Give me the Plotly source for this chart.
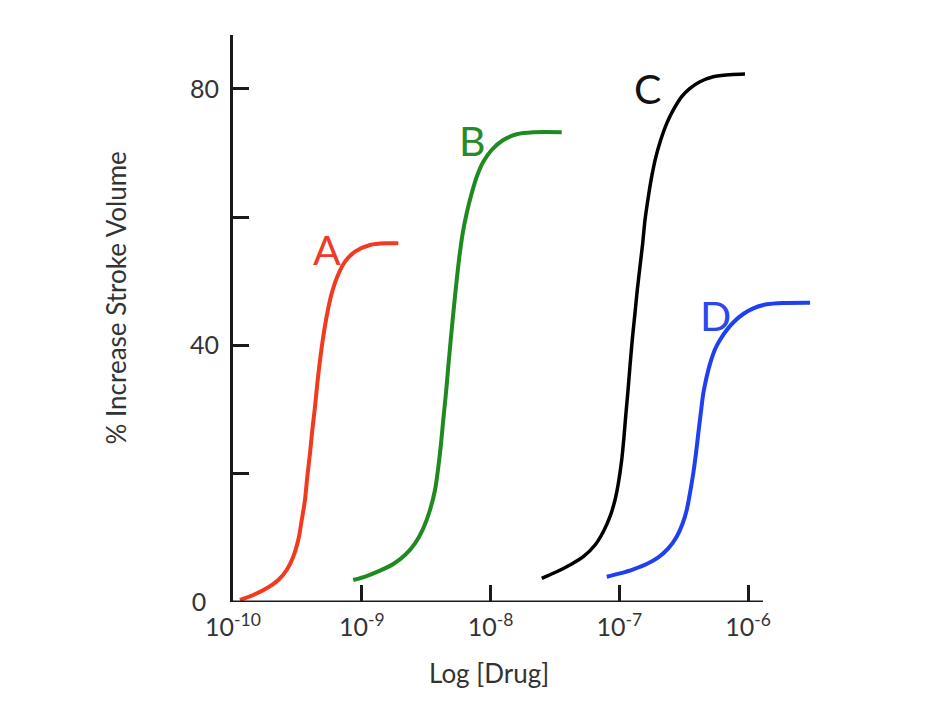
import plotly.graph_objects as go

# ---- data ----
# log10 of drug concentration (M) and % increase in stroke volume
logA = [-9.946, -9.842, -9.738, -9.648, -9.583, -9.532, -9.493, -9.466, -9.441, -9.423, -9.402, -9.384,
        -9.363, -9.345, -9.324, -9.299, -9.268, -9.233, -9.190, -9.130, -9.052, -8.936, -8.806, -8.716]
yA = [0.31, 1.09, 2.14, 3.43, 4.99, 7.06, 9.67, 12.78, 15.90, 19.54, 23.18, 26.82,
      30.45, 34.10, 37.73, 41.36, 45.01, 48.13, 50.72, 53.06, 54.62, 55.66, 55.92, 55.92]

logB = [-9.066, -8.962, -8.858, -8.755, -8.664, -8.586, -8.522, -8.470, -8.431, -8.405, -8.384, -8.367,
        -8.346, -8.328, -8.309, -8.289, -8.268, -8.245, -8.216, -8.185, -8.146, -8.107, -8.056, -7.991,
        -7.901, -7.797, -7.668, -7.447]
yB = [3.43, 4.05, 4.88, 5.92, 7.33, 9.15, 11.49, 14.34, 17.46, 21.09, 24.74, 28.38,
      32.54, 36.69, 40.85, 45.01, 49.16, 53.32, 57.48, 60.60, 63.72, 66.31, 68.65, 70.47,
      72.03, 72.92, 73.23, 73.23]

logC = [-7.602, -7.486, -7.383, -7.279, -7.188, -7.124, -7.072, -7.033, -7.007, -6.981, -6.963, -6.948,
        -6.934, -6.917, -6.899, -6.878, -6.860, -6.839, -6.818, -6.800, -6.774, -6.748, -6.715, -6.678,
        -6.631, -6.580, -6.515, -6.451, -6.373, -6.270, -6.140, -6.023]
yC = [3.70, 4.72, 5.77, 7.06, 8.89, 10.96, 13.30, 15.90, 18.51, 22.14, 25.77, 29.42,
      32.54, 36.69, 40.85, 45.01, 48.64, 52.28, 55.92, 59.56, 63.19, 66.31, 69.43, 72.03,
      74.63, 76.71, 78.78, 80.09, 81.12, 81.90, 82.21, 82.32]

logD = [-7.097, -6.994, -6.891, -6.787, -6.697, -6.619, -6.554, -6.507, -6.476, -6.451, -6.425, -6.404,
        -6.386, -6.367, -6.347, -6.321, -6.290, -6.256, -6.218, -6.165, -6.109, -6.037, -5.959, -5.855,
        -5.726, -5.518]
yD = [3.94, 4.47, 5.10, 5.92, 6.97, 8.37, 10.18, 12.27, 14.34, 16.95, 20.07, 23.18,
      26.30, 29.42, 32.54, 35.13, 37.47, 39.40, 40.85, 42.41, 43.70, 44.90, 45.79, 46.41,
      46.62, 46.66]

curve_names = ["A", "B", "C", "D"]
x_tick_exponents = [-10, -9, -8, -7, -6]
y_tick_values = [0, 20, 40, 60, 80]
y_tick_labels = ["0&nbsp;&nbsp;", "", "40", "", "80"]

# ---- styles ----
colors = {"A": "#f23a1f", "B": "#1f8a1f", "C": "#000000", "D": "#1f40f2"}
label_colors = {"A": "#ee3a2a", "B": "#2a8a2a", "C": "#111111", "D": "#2a48f0"}
widths = {"A": 4, "B": 4, "C": 3.5, "D": 4}
label_pos = {"A": (-9.27, 54.9), "B": (-8.136, 72.0), "C": (-6.777, 80.1), "D": (-6.256, 44.6)}

series = {"A": (logA, yA), "B": (logB, yB), "C": (logC, yC), "D": (logD, yD)}

FONT = "Lato, 'Open Sans', sans-serif"
AX = "#1a1a1a"

fig = go.Figure()
for name in curve_names:
    lx, yy = series[name]
    fig.add_trace(go.Scatter(
        x=[10 ** v for v in lx], y=yy, mode="lines",
        line=dict(color=colors[name], width=widths[name], shape="spline", smoothing=0.8),
        showlegend=False, hoverinfo="skip"))

annotations = []
for name in curve_names:
    lx, ly = label_pos[name]
    annotations.append(dict(x=lx, y=ly, xref="x", yref="y", text=name, showarrow=False,
                            font=dict(family=FONT, size=41, color=label_colors[name]),
                            xanchor="center", yanchor="middle"))

# axis titles
annotations.append(dict(x=-0.1993, y=0.536, xref="paper", yref="paper",
                        text="% Increase Stroke Volume", textangle=-90, showarrow=False,
                        font=dict(family=FONT, size=26, color="#333333"),
                        xanchor="center", yanchor="middle"))
annotations.append(dict(x=0.437, y=-0.125, xref="paper", yref="paper",
                        text="Log [Drug]", showarrow=False,
                        font=dict(family=FONT, size=26, color="#333333"),
                        xanchor="center", yanchor="middle"))

L, R, T, B = 233, 123, 35, 103
plot_w = 941 - L - R
x_end = -10 + plot_w / 128.75

fig.update_layout(
    width=941, height=705,
    margin=dict(l=L, r=R, t=T, b=B, pad=0),
    paper_bgcolor="white", plot_bgcolor="white",
    annotations=annotations,
    xaxis=dict(type="log", range=[-10, x_end], showgrid=False, zeroline=False,
               showline=False, ticks="inside", ticklen=17, tickwidth=2.5, tickcolor=AX,
               tickmode="array", tickvals=[10.0 ** e for e in x_tick_exponents],
               ticktext=["10<sup>%d</sup>" % e for e in x_tick_exponents],
               tickfont=dict(family=FONT, size=25, color="#333333"),
               ticklabelstandoff=8),
    yaxis=dict(range=[0, 88.4], showgrid=False, zeroline=False,
               showline=True, linewidth=3, linecolor=AX,
               ticks="inside", ticklen=16, tickwidth=2.5, tickcolor=AX,
               tickmode="array", tickvals=y_tick_values, ticktext=y_tick_labels,
               tickfont=dict(family=FONT, size=25, color="#333333"),
               ticklabelstandoff=6),
    shapes=[dict(type="line", xref="paper", yref="y", x0=-0.003, x1=(763 - L) / plot_w,
                 y0=0, y1=0, line=dict(color=AX, width=3), layer="above")],
)

fig.write_html("out.html", config={"displayModeBar": False},
               post_script="document.body.style.margin='0';document.body.style.overflow='hidden';")
